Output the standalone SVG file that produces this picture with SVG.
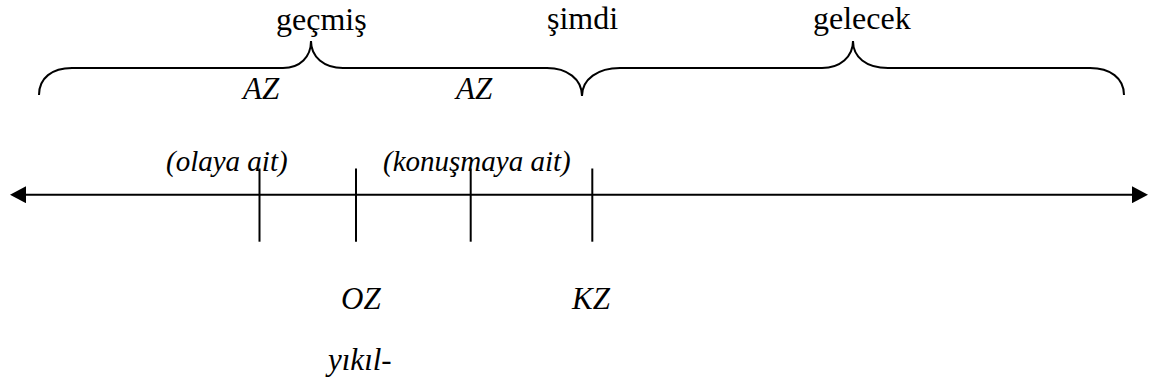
<svg xmlns="http://www.w3.org/2000/svg" width="1153" height="392" viewBox="0 0 1153 392">
<style>
.up{font-family:'Liberation Serif','Times New Roman',Times,'DejaVu Serif',serif;font-size:32px;fill:#000}
.it{font-family:'Liberation Serif','Times New Roman',Times,'DejaVu Serif',serif;font-size:31px;font-style:italic;fill:#000}
.par{font-family:'Liberation Serif','Times New Roman',Times,'DejaVu Serif',serif;font-size:29px;font-style:italic;fill:#000}
.ln{fill:none;stroke:#000;stroke-width:2}
</style>
<defs>
<marker id="ah" markerUnits="userSpaceOnUse" markerWidth="16" markerHeight="17" refX="0" refY="8.5" orient="auto-start-reverse">
<path d="M0,0 L16,8.5 L0,17 z" fill="#000"/>
</marker>
</defs>
<rect width="1153" height="392" fill="#fff"/>
<g id="braces">
<path id="brace-gecmis" class="ln" d="M39,95 C39,78 52,68 72,68 L283,68 C300,68 311,57 311,41 C311,57 324,68 343,68 L547,68 C567,68 582,79 582,96"/>
<path id="brace-gelecek" class="ln" d="M582,96 C582,79 598,68 620,68 L822,68 C840,68 853,57 853,41 C853,57 866,68 888,68 L1090,68 C1110,68 1124,78 1124,95"/>
</g>
<g id="label-gecmis"><text class="up" x="276" y="29.5">geçmiş</text></g>
<g id="label-simdi"><text class="up" x="547" y="29">şimdi</text></g>
<g id="label-gelecek"><text class="up" x="813" y="29">gelecek</text></g>
<g id="label-az1"><text class="it" x="243" y="99">AZ</text></g>
<g id="label-az2"><text class="it" x="456" y="99">AZ</text></g>
<g id="label-olaya"><text class="par" x="166" y="171">(olaya ait)</text></g>
<g id="label-konusmaya"><text class="par" x="383" y="171">(konuşmaya ait)</text></g>
<g id="connectors">
<path id="timeline" class="ln" d="M26,194.7 L1132,194.7" marker-start="url(#ah)" marker-end="url(#ah)"/>
<path id="tick1" class="ln" d="M259.5,168.5 V241.7"/>
<path id="tick2" class="ln" d="M356,168.5 V241.7"/>
<path id="tick3" class="ln" d="M470.7,168.5 V241.7"/>
<path id="tick4" class="ln" d="M592.3,168.5 V241.7"/>
</g>
<g id="label-oz"><text class="it" x="341" y="309">OZ</text></g>
<g id="label-kz"><text class="it" x="572" y="309">KZ</text></g>
<g id="label-yikil"><text class="it" x="328" y="370">yıkıl-</text></g>
</svg>
